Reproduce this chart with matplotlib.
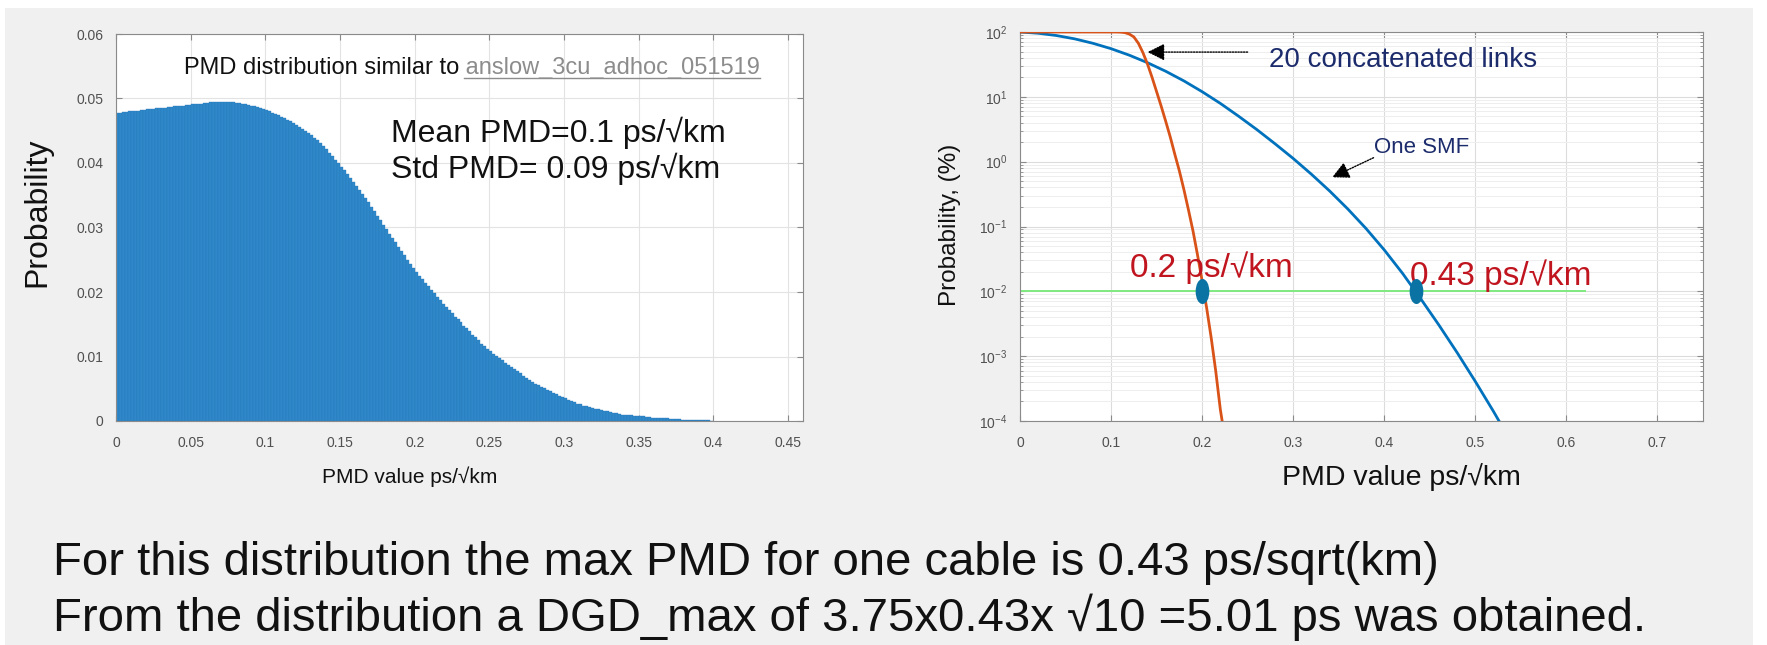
import numpy as np
import matplotlib.pyplot as plt
from matplotlib.patches import Rectangle
from matplotlib.lines import Line2D
from matplotlib.path import Path

plt.rcParams['font.family'] = ['Liberation Sans', 'DejaVu Sans']

# ---- data: histogram of PMD values (left), bins of 0.002 from 0 ----
bin_width = 0.002
hist_prob = [
    0.0478, 0.0478, 0.0479, 0.0479, 0.0480, 0.0480, 0.0481, 0.0481, 0.0482, 0.0482,
    0.0483, 0.0484, 0.0484, 0.0485, 0.0485, 0.0486, 0.0486, 0.0487, 0.0487, 0.0488,
    0.0488, 0.0489, 0.0489, 0.0490, 0.0490, 0.0491, 0.0491, 0.0492, 0.0492, 0.0493,
    0.0493, 0.0494, 0.0494, 0.0494, 0.0495, 0.0495, 0.0495, 0.0495, 0.0494, 0.0494,
    0.0493, 0.0493, 0.0492, 0.0491, 0.0490, 0.0489, 0.0488, 0.0487, 0.0485, 0.0484,
    0.0482, 0.0480, 0.0478, 0.0476, 0.0474, 0.0472, 0.0470, 0.0467, 0.0465, 0.0462,
    0.0459, 0.0456, 0.0453, 0.0450, 0.0447, 0.0443, 0.0439, 0.0435, 0.0431, 0.0426,
    0.0421, 0.0416, 0.0411, 0.0405, 0.0400, 0.0394, 0.0389, 0.0383, 0.0377, 0.0371,
    0.0365, 0.0358, 0.0352, 0.0345, 0.0339, 0.0332, 0.0325, 0.0318, 0.0311, 0.0304,
    0.0297, 0.0290, 0.0284, 0.0277, 0.0270, 0.0263, 0.0257, 0.0250, 0.0244, 0.0237,
    0.0231, 0.0225, 0.0220, 0.0214, 0.0209, 0.0203, 0.0198, 0.0192, 0.0187, 0.0182,
    0.0177, 0.0172, 0.0167, 0.0162, 0.0158, 0.0153, 0.0148, 0.0144, 0.0139, 0.0134,
    0.0130, 0.0125, 0.0120, 0.0116, 0.0112, 0.0108, 0.0104, 0.0101, 0.0097, 0.0094,
    0.0090, 0.0087, 0.0084, 0.0080, 0.0077, 0.0074, 0.0070, 0.0067, 0.0064, 0.0061,
    0.0058, 0.0056, 0.0053, 0.0051, 0.0048, 0.0046, 0.0044, 0.0042, 0.0039, 0.0037,
    0.0035, 0.0033, 0.0031, 0.0029, 0.0027, 0.0026, 0.0024, 0.0023, 0.0021, 0.0020,
    0.0019, 0.0018, 0.0017, 0.0016, 0.0015, 0.0014, 0.0013, 0.0012, 0.0011, 0.0010,
    0.0010, 0.0009, 0.0009, 0.0008, 0.0008, 0.0007, 0.0007, 0.0006, 0.0006, 0.0005,
    0.0005, 0.0005, 0.0004, 0.0004, 0.0004, 0.0003, 0.0003, 0.0003, 0.0003, 0.0002,
    0.0002, 0.0002, 0.0002, 0.0001, 0.0001, 0.0001, 0.0001, 0.0001, 0.0001, 0.00005,
]
left_xticks = [0, 0.05, 0.1, 0.15, 0.2, 0.25, 0.3, 0.35, 0.4, 0.45]
left_xticklabels = ['0', '0.05', '0.1', '0.15', '0.2', '0.25', '0.3', '0.35', '0.4', '0.45']
left_yticks = [0, 0.01, 0.02, 0.03, 0.04, 0.05, 0.06]
left_yticklabels = ['0', '0.01', '0.02', '0.03', '0.04', '0.05', '0.06']

# ---- data: probability of exceeding a PMD value, in % (right) ----
smf_x = [0.0, 0.02, 0.04, 0.06, 0.08, 0.10, 0.12, 0.14, 0.16, 0.18, 0.20, 0.22,
         0.24, 0.26, 0.28, 0.30, 0.32, 0.34, 0.36, 0.38, 0.40, 0.42, 0.44, 0.46,
         0.48, 0.50, 0.52, 0.526]
smf_p = [100, 95.7, 88.2, 78.4, 67.0, 55.3, 43.9, 33.6, 24.8, 17.6, 12.0, 7.92,
         5.03, 3.13, 1.89, 1.12, 0.64, 0.353, 0.186, 0.093, 0.0435, 0.0190, 0.00769, 0.00302,
         0.001135, 0.000407, 0.00014, 0.0001]
links_x = [0.0, 0.105, 0.110, 0.115, 0.120, 0.125, 0.130, 0.135, 0.140, 0.145,
           0.150, 0.155, 0.160, 0.165, 0.170, 0.175, 0.180, 0.185, 0.190, 0.195,
           0.200, 0.205, 0.210, 0.215, 0.220, 0.222]
links_p = [100, 100, 99.5, 98, 93, 84, 67, 48, 32, 20,
           12, 7.2, 4.2, 2.4, 1.3, 0.72, 0.37, 0.18, 0.085, 0.036,
           0.0145, 0.0055, 0.0019, 0.00058, 0.00015, 0.0001]
limit_p = 0.01
limit_x_end = 0.62
marker_x = [0.2, 0.435]
right_xticks = [0, 0.1, 0.2, 0.3, 0.4, 0.5, 0.6, 0.7]
right_xticklabels = ['0', '0.1', '0.2', '0.3', '0.4', '0.5', '0.6', '0.7']

W, H = 1767, 645
fig = plt.figure(figsize=(W / 100, H / 100), dpi=100, facecolor='white')
fig.patches.append(Rectangle((0.003, 0.0), 0.989, 0.987, transform=fig.transFigure,
                             facecolor='#f0f0f0', edgecolor='none', zorder=-10))

tick_col = '#505050'
spine_col = '#8a8a8a'
grid_col = '#e3e3e3'

def style_axes(ax):
    for s in ax.spines.values():
        s.set_color(spine_col)
        s.set_linewidth(0.8)
    ax.tick_params(direction='in', top=True, right=True, colors=spine_col,
                   labelcolor=tick_col, labelsize=10, length=4, width=0.8)
    ax.tick_params(axis='x', pad=11)
    ax.tick_params(axis='y', pad=9)
    ax.set_axisbelow(True)

# ---- left: histogram ----
ax1 = fig.add_axes([116 / W, 1 - 421 / H, (803 - 116) / W, (421 - 34) / H])
edges = np.arange(len(hist_prob)) * bin_width
ax1.bar(edges, hist_prob, width=bin_width, align='edge', color='#2f88c9',
        edgecolor='#2678b8', linewidth=0.25)
ax1.set_xlim(0, 0.46)
ax1.set_ylim(0, 0.06)
ax1.set_xticks(left_xticks)
ax1.set_xticklabels(left_xticklabels)
ax1.set_yticks(left_yticks)
ax1.set_yticklabels(left_yticklabels)
ax1.grid(True, color=grid_col, linewidth=0.8)
style_axes(ax1)
ax1.set_xlabel('PMD value ps/\u221akm', fontsize=15, color='#111111')
ax1.xaxis.set_label_coords(0.427, -0.145)
ax1.xaxis.label.set_va('center')
ax1.set_ylabel('Probability', fontsize=23, color='#111111')
ax1.yaxis.set_label_coords(-0.115, 0.54)
ax1.yaxis.label.set_va('center')

t1 = ax1.text(0.0455, 0.0548, 'PMD distribution similar to', fontsize=17,
              va='center', ha='left', color='#111111')
t2 = ax1.annotate(' anslow_3cu_adhoc_051519', xy=(1, 0), xycoords=t1,
                  va='bottom', ha='left', fontsize=17, color='#8c8c8c')
ax1.text(0.184, 0.0447, 'Mean PMD=0.1 ps/\u221akm', fontsize=23, va='center',
         color='#111111')
ax1.text(0.184, 0.0391, 'Std PMD= 0.09 ps/\u221akm', fontsize=23, va='center',
         color='#111111')

# ---- right: exceed probability ----
ax2 = fig.add_axes([1020 / W, 1 - 421 / H, (1703 - 1020) / W, (421 - 32) / H])
ax2.set_yscale('log')
ax2.set_xlim(0, 0.75)
ax2.set_ylim(1e-4, 1e2)
ax2.set_xticks(right_xticks)
ax2.set_xticklabels(right_xticklabels)
ax2.grid(True, which='major', color='#dcdcdc', linewidth=0.8)
ax2.grid(True, which='minor', axis='y', color='#eeeeee', linewidth=0.7)
style_axes(ax2)
ax2.tick_params(which='minor', direction='in', right=True, colors=spine_col,
                length=2)

ax2.plot([0, limit_x_end], [limit_p, limit_p], color='#80ea80', linewidth=1.4, zorder=2)
ax2.plot(smf_x, smf_p, color='#0072bd', linewidth=2.0, zorder=3)
ax2.plot(links_x, links_p, color='#d95319', linewidth=2.0, zorder=3)

circ = Path.unit_circle()
ellipse_marker = Path(circ.vertices * np.array([0.52, 1.0]), circ.codes)
ax2.plot(marker_x, [limit_p] * len(marker_x), linestyle='none', marker=ellipse_marker,
         markersize=17, color='#0a73a3', markeredgecolor='#0a73a3', zorder=4)

ax2.set_xlabel('PMD value ps/\u221akm', fontsize=20.5, color='#111111')
ax2.xaxis.set_label_coords(0.558, -0.144)
ax2.xaxis.label.set_va('center')
ax2.set_ylabel('Probability, (%)', fontsize=17.5, color='#111111')
ax2.yaxis.set_label_coords(-0.102, 0.504)
ax2.yaxis.label.set_va('center')

ax2.annotate('', xy=(0.137, 49), xytext=(0.253, 49),
             arrowprops=dict(arrowstyle='-|>', linestyle=(0, (1, 1)), color='black',
                             lw=1.0, mutation_scale=26))
ax2.text(0.2735, 37, '20 concatenated links', fontsize=20, va='center',
         color='#1c2b6b')
ax2.annotate('', xy=(0.340, 0.55), xytext=(0.391, 1.20),
             arrowprops=dict(arrowstyle='-|>', linestyle=(0, (1, 1)), color='black',
                             lw=1.0, mutation_scale=26))
ax2.text(0.389, 1.68, 'One SMF', fontsize=16, va='center', color='#1c2b6b')
ax2.text(0.121, 0.0235, '0.2 ps/\u221akm', fontsize=24, va='center', color='#c0141e')
ax2.text(0.4285, 0.0172, '0.43 ps/\u221akm', fontsize=24, va='center', color='#c0141e')

# ---- bottom text ----
fig.text(53 / W, 1 - 575 / H, 'For this distribution the max PMD for one cable is 0.43 ps/sqrt(km)',
         fontsize=34, va='baseline', color='#111111')
fig.text(53 / W, 1 - 631 / H, 'From the distribution a DGD_max of 3.75x0.43x \u221a10 =5.01 ps was obtained.',
         fontsize=34, va='baseline', color='#111111')

# underline the link-style text
fig.canvas.draw()
bb = t2.get_window_extent()
fig.add_artist(Line2D([bb.x0 + 5, bb.x1], [bb.y0 + 1, bb.y0 + 1], transform=None,
                      color='#8c8c8c', linewidth=1.0))

fig.savefig('out.png', dpi=100, facecolor=fig.get_facecolor())
